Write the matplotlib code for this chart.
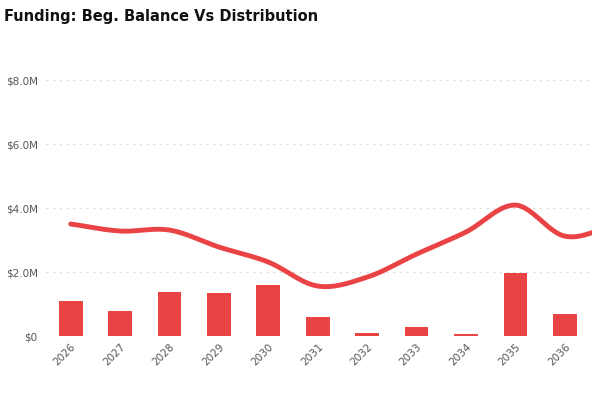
import numpy as np
import matplotlib
matplotlib.use("Agg")
import matplotlib.pyplot as plt

years = [2026, 2027, 2028, 2029, 2030, 2031, 2032, 2033, 2034, 2035, 2036, 2037]
beg_balance = [3.50, 3.28, 3.31, 2.78, 2.31, 1.56, 1.84, 2.56, 3.25, 4.09, 3.12, 3.45]
distribution = [1.09, 0.78, 1.37, 1.34, 1.60, 0.60, 0.10, 0.28, 0.07, 1.97, 0.69, 0.50]
ytick_vals = [0, 2, 4, 6, 8]
ytick_labels = ["$0", "$2.0M", "$4.0M", "$6.0M", "$8.0M"]

red = "#ea4345"
fig = plt.figure(figsize=(5.92, 4.02), dpi=100)
ax = fig.add_axes([46/592, 65/402, (592-46)/592, (337-81)/402])

x = np.array(years, float)
ax.bar(x, distribution, width=0.48, color=red, zorder=2)

# smooth curve (Catmull-Rom) through the points
y = np.array(beg_balance)
xs, ys = [], []
P = np.column_stack([x, y])
P = np.vstack([P[0]*2-P[1], P, P[-1]*2-P[-2]])
for i in range(1, len(P)-2):
    t = np.linspace(0, 1, 30)[:, None]
    p0, p1, p2, p3 = P[i-1], P[i], P[i+1], P[i+2]
    c = 0.5*((2*p1) + (-p0+p2)*t + (2*p0-5*p1+4*p2-p3)*t**2 + (-p0+3*p1-3*p2+p3)*t**3)
    xs.extend(c[:, 0]); ys.extend(c[:, 1])
ax.plot(xs, ys, color=red, lw=3.5, solid_capstyle='round', zorder=3)

ax.set_xlim(2025.5, 2036.55)
ax.set_ylim(0, 8)
ax.set_yticks(ytick_vals)
ax.set_yticklabels(ytick_labels)
ax.set_xticks(years[:-1])
ax.set_xticklabels([str(v) for v in years[:-1]], rotation=45, ha='right', rotation_mode='anchor')
ax.tick_params(length=0, labelsize=7.5, colors="#555555")
ax.tick_params(axis='y', pad=6)
ax.grid(axis='y', color="#dddddd", linestyle=(0, (2, 4)), lw=0.8, zorder=0)
for s in ax.spines.values():
    s.set_visible(False)
fig.text(4/592, 1-16/402, "Funding: Beg. Balance Vs Distribution", fontsize=10.5,
         fontweight='bold', va='center', ha='left', color="#111111")
fig.savefig("out.png", dpi=100)
